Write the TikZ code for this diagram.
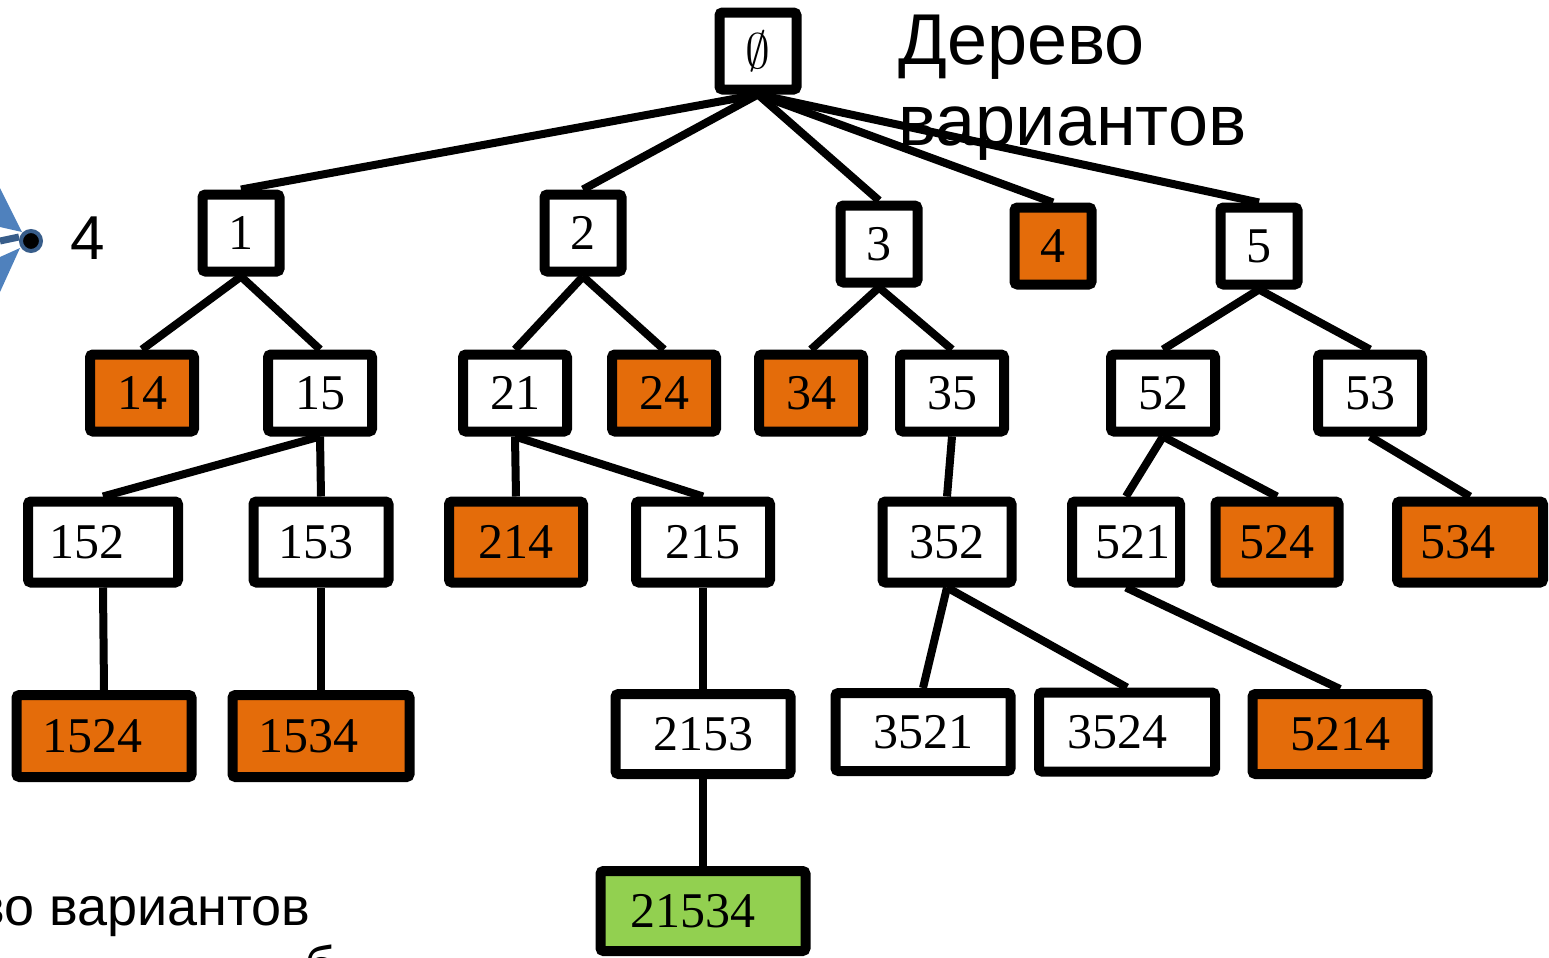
\documentclass[tikz,border=0pt]{standalone}
\usepackage{fontspec}
\newfontfamily\ruSans{Liberation Sans}
\newfontfamily\numSerif{Liberation Serif}
\usetikzlibrary{positioning}
\definecolor{cutOrange}{RGB}{228,108,10}
\definecolor{goalGreen}{RGB}{146,208,80}
\definecolor{shapeBlue}{RGB}{79,129,189}
\definecolor{darkBlue}{RGB}{56,93,138}
\newcommand{\padr}[1]{\rule{#1}{0pt}}

\begin{document}
\begin{tikzpicture}[x=0.5pt,y=-0.5pt,
	var/.style={draw,line width=5pt,rounded corners=1.5pt,fill=white,inner sep=0pt,
		minimum width=38.5pt,minimum height=38.5pt,font=\numSerif\fontsize{25}{30}\selectfont},
	cut/.style={var,fill=cutOrange},
	goal/.style={var,fill=goalGreen},
	two/.style={minimum width=52pt},
	every edge/.style={draw,line width=4pt}]
	\clip (0,0) rectangle (1549,958);
	% left remains of the previous figure
	\fill[shapeBlue] (0,188) -- (22,232) -- (0,227) -- cycle;
	\fill[shapeBlue] (0,257) -- (20,248) -- (0,292) -- cycle;
	\draw[darkBlue,line width=3.5pt] (0,241) -- (19,237);
	\draw[darkBlue,line width=2pt,fill=black] (31,241) circle (10);
	\node[font=\ruSans\fontsize{31}{34}\selectfont] (four) at (88,238) {4};
	% tree
	\node[var] (root) at (758,51) {$\emptyset$};
	\node[var] (n1) at (241,233) {1};
	\node[var] (n2) at (583,233) {2};
	\node[var] (n3) at (879,244) {3};
	\node[cut] (n4) at (1053,246) {4};
	\node[var] (n5) at (1259,246) {5};
	\node[cut,two] (n14) at (142,393) {14};
	\node[var,two] (n15) at (320,393) {15};
	\node[var,two] (n21) at (515,393) {21};
	\node[cut,two] (n24) at (664,393) {24};
	\node[cut,two] (n34) at (811,393) {34};
	\node[var,two] (n35) at (952,393) {35};
	\node[var,two] (n52) at (1163,393) {52};
	\node[var,two] (n53) at (1370,393) {53};
	\node[var,minimum width=75pt,minimum height=40.5pt] (n152) at (103,542) {152\padr{16pt}};
	\node[var,minimum width=67.5pt,minimum height=40.5pt] (n153) at (321,542) {153\padr{5pt}};
	\node[cut,minimum width=67pt,minimum height=40.5pt] (n214) at (516,542) {214};
	\node[var,minimum width=67pt,minimum height=40.5pt] (n215) at (703,542) {215};
	\node[var,minimum width=64.5pt,minimum height=40.5pt] (n352) at (947,542) {352};
	\node[var,minimum width=54pt,minimum height=40.5pt] (n521) at (1126,542) {\padr{7pt}521};
	\node[cut,minimum width=61.5pt,minimum height=40.5pt] (n524) at (1277,542) {524};
	\node[cut,minimum width=73pt,minimum height=40.5pt] (n534) at (1470,542) {534\padr{12pt}};
	\node[cut,minimum width=87.5pt,minimum height=41pt] (n1524) at (104,736) {1524\padr{12pt}};
	\node[cut,minimum width=88.5pt,minimum height=41pt] (n1534) at (321,736) {1534\padr{13pt}};
	\node[var,minimum width=87.5pt,minimum height=40pt] (n2153) at (703,734) {2153};
	\node[var,minimum width=87.5pt,minimum height=39pt] (n3521) at (923,732) {3521};
	\node[var,minimum width=88pt,minimum height=39.5pt] (n3524) at (1127,732) {3524\padr{10pt}};
	\node[cut,minimum width=87.5pt,minimum height=40pt] (n5214) at (1340,734) {5214};
	\node[goal,minimum width=102.5pt,minimum height=40pt] (n21534) at (703,911) {21534\padr{10pt}};
	\path
		(root.south)
	edge (n1.north)
	edge (n2.north)
	edge (n3.north)
	edge (n4.north)
	edge (n5.north)
		(n1.south)
	edge (n14.north)
	edge (n15.north)
		(n2.south)
	edge (n21.north)
	edge (n24.north)
		(n3.south)
	edge (n34.north)
	edge (n35.north)
		(n5.south)
	edge (n52.north)
	edge (n53.north)
		(n15.south)
	edge (n152.north)
	edge (n153.north)
		(n21.south)
	edge (n214.north)
	edge (n215.north)
		(n35.south)
	edge (n352.north)
		(n52.south)
	edge (n521.north)
	edge (n524.north)
		(n53.south)
	edge (n534.north)
		(n152.south)
	edge (n1524.north)
		(n153.south)
	edge (n1534.north)
		(n215.south)
	edge (n2153.north)
		(n352.south)
	edge (n3521.north)
	edge (n3524.north)
		(n521.south)
	edge (n5214.north)
		(n2153.south)
	edge (n21534.north);
	% texts
	\node[font=\ruSans\fontsize{36}{40.5}\selectfont,align=left,anchor=north west,inner sep=0pt]
		(title) at (898,15) {Дерево\\вариантов};
	\node[font=\ruSans\fontsize{27}{30}\selectfont,anchor=base east,inner sep=0pt]
		(caption) at (311,925) {Дерево вариантов};
	\node[font=\ruSans\fontsize{27}{30}\selectfont,anchor=base west,inner sep=0pt]
		(cutb) at (304,984) {б};
\end{tikzpicture}
\end{document}
